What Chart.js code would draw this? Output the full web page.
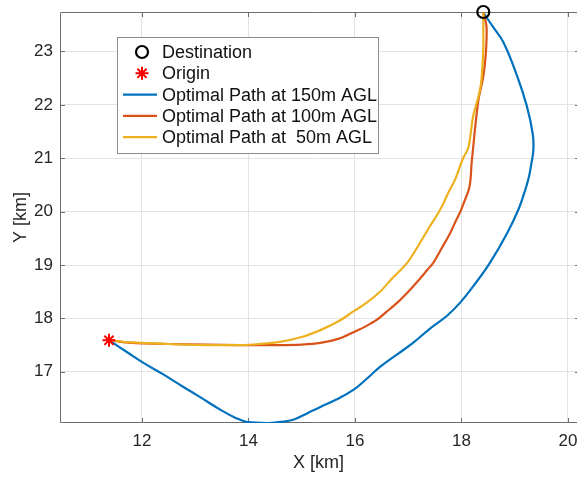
<!DOCTYPE html>
<html>
<head>
<meta charset="utf-8">
<script src="https://cdn.jsdelivr.net/npm/chart.js@4/dist/chart.umd.min.js"></script>
<style>
  html, body { margin: 0; padding: 0; background: #fff; }
  canvas { display: block; }
</style>
</head>
<body>
<canvas id="pathChart" width="577" height="477"></canvas>
<script>
// Axis ticks
const xTicks = [12, 14, 16, 18, 20];
const yTicks = [17, 18, 19, 20, 21, 22, 23];

// Markers
const originX = [11.38];
const originY = [17.59];
const destX = [18.41];
const destY = [23.74];

// Optimal path at 150m AGL
const path150X = [11.38, 11.7, 12.02, 12.4, 12.77, 13.1, 13.47, 13.75, 13.97, 14.35, 14.6, 14.84, 15.1, 15.35, 15.65, 15.97, 16.2, 16.47, 16.8, 17.09, 17.41, 17.73, 17.98, 18.22, 18.54, 18.86, 19.07, 19.18, 19.26, 19.31, 19.35, 19.34, 19.23, 19.05, 18.79, 18.6, 18.41];
const path150Y = [17.59, 17.38, 17.17, 16.95, 16.72, 16.52, 16.29, 16.14, 16.06, 16.04, 16.06, 16.1, 16.22, 16.34, 16.48, 16.66, 16.85, 17.09, 17.33, 17.54, 17.81, 18.05, 18.3, 18.6, 19.05, 19.6, 20.04, 20.35, 20.62, 20.88, 21.15, 21.45, 21.97, 22.53, 23.17, 23.45, 23.73];

// Optimal path at 100m AGL
const path100X = [11.38, 11.8, 12.5, 13.2, 13.84, 14.5, 15.0, 15.35, 15.7, 15.97, 16.2, 16.42, 16.6, 16.79, 17.0, 17.2, 17.36, 17.47, 17.62, 17.78, 17.9, 17.98, 18.07, 18.14, 18.17, 18.19, 18.22, 18.26, 18.32, 18.41, 18.46, 18.47, 18.41];
const path100Y = [17.59, 17.54, 17.52, 17.51, 17.5, 17.5, 17.51, 17.54, 17.62, 17.74, 17.85, 17.98, 18.13, 18.29, 18.5, 18.72, 18.91, 19.04, 19.3, 19.58, 19.84, 20.0, 20.23, 20.42, 20.6, 20.9, 21.2, 21.6, 22.1, 22.53, 23.0, 23.47, 23.73];

// Optimal path at 50m AGL
const path50X = [11.38, 11.8, 12.5, 13.2, 13.84, 14.2, 14.59, 15.0, 15.35, 15.7, 15.97, 16.2, 16.47, 16.7, 16.98, 17.2, 17.41, 17.55, 17.66, 17.75, 17.88, 18.03, 18.13, 18.22, 18.32, 18.37, 18.41, 18.41, 18.41];
const path50Y = [17.59, 17.55, 17.52, 17.5, 17.5, 17.52, 17.56, 17.65, 17.78, 17.95, 18.13, 18.28, 18.5, 18.75, 19.04, 19.38, 19.73, 19.95, 20.15, 20.35, 20.6, 21.0, 21.2, 21.79, 22.16, 22.42, 23.04, 23.47, 23.73];

function toPoints(xs, ys) {
    return xs.map((x, i) => ({ x: x, y: ys[i] }));
}

const textColor = '#262626';
const fontFamily = '"Liberation Sans", Arial, Helvetica, sans-serif';

// Axes frame with inward tick marks (right edge of the frame is just off the picture)
const boxPlugin = {
    id: 'boxPlugin',
    beforeDatasetsDraw(chart) {
        const { ctx, chartArea: a, scales } = chart;
        const len = 5;
        ctx.save();
        ctx.strokeStyle = '#6e6e6e';
        ctx.lineWidth = 1;
        ctx.beginPath();
        ctx.moveTo(a.right, a.top + 0.5);
        ctx.lineTo(a.left + 0.5, a.top + 0.5);
        ctx.lineTo(a.left + 0.5, a.bottom - 0.5);
        ctx.lineTo(a.right, a.bottom - 0.5);
        xTicks.forEach(v => {
            const px = Math.round(scales.x.getPixelForValue(v)) + 0.5;
            ctx.moveTo(px, a.bottom); ctx.lineTo(px, a.bottom - len);
            ctx.moveTo(px, a.top); ctx.lineTo(px, a.top + len);
        });
        yTicks.forEach(v => {
            const py = Math.round(scales.y.getPixelForValue(v)) + 0.5;
            ctx.moveTo(a.left, py); ctx.lineTo(a.left + len, py);
            ctx.moveTo(a.right, py); ctx.lineTo(a.right - 2, py);
        });
        ctx.stroke();
        ctx.restore();
    }
};

// Legend drawn inside the plot area
const insideLegend = {
    id: 'insideLegend',
    afterDatasetsDraw(chart) {
        const { ctx, chartArea: a } = chart;
        const left = a.left + 57;
        const top = a.top + 25;
        const width = 261;
        const rowH = 21.3;
        const height = 116;
        ctx.save();
        ctx.fillStyle = '#fff';
        ctx.fillRect(left, top, width, height);
        ctx.strokeStyle = '#8c8c8c';
        ctx.lineWidth = 1;
        ctx.strokeRect(left + 0.5, top + 0.5, width, height);
        ctx.font = '18px ' + fontFamily;
        ctx.textBaseline = 'middle';
        chart.data.datasets.forEach((ds, i) => {
            const cy = top + 15 + i * rowH;
            if (ds.showLine) {
                ctx.strokeStyle = ds.borderColor;
                ctx.lineWidth = 2.2;
                ctx.beginPath();
                ctx.moveTo(left + 6, cy);
                ctx.lineTo(left + 40, cy);
                ctx.stroke();
            } else {
                ctx.strokeStyle = ds.pointBorderColor;
                ctx.fillStyle = ds.pointBackgroundColor;
                ctx.lineWidth = ds.pointBorderWidth;
                Chart.helpers.drawPoint(ctx, {
                    pointStyle: ds.pointStyle,
                    radius: ds.pointRadius,
                    borderWidth: ds.pointBorderWidth,
                    rotation: 0
                }, left + 25, cy);
            }
            ctx.fillStyle = '#111';
            ctx.fillText(ds.label, left + 45, cy + 1);
        });
        ctx.restore();
    }
};

const ctx = document.getElementById('pathChart').getContext('2d');
new Chart(ctx, {
    type: 'scatter',
    data: {
        datasets: [
            {
                label: 'Destination',
                data: toPoints(destX, destY),
                pointStyle: 'circle',
                pointRadius: 6,
                pointBorderWidth: 2.2,
                pointBorderColor: '#000',
                pointBackgroundColor: 'rgba(0,0,0,0)',
                borderColor: '#000',
                showLine: false,
                clip: false,
                order: 0
            },
            {
                label: 'Origin',
                data: toPoints(originX, originY),
                pointStyle: 'star',
                pointRadius: 6.5,
                pointBorderWidth: 2,
                pointBorderColor: '#ff0000',
                pointBackgroundColor: '#ff0000',
                borderColor: '#ff0000',
                showLine: false,
                clip: false,
                order: 1
            },
            {
                label: 'Optimal Path at 150m AGL',
                data: toPoints(path150X, path150Y),
                borderColor: '#0072BD',
                borderWidth: 2.2,
                pointRadius: 0,
                showLine: true,
                tension: 0.4,
                order: 4
            },
            {
                label: 'Optimal Path at 100m AGL',
                data: toPoints(path100X, path100Y),
                borderColor: '#D95319',
                borderWidth: 2.2,
                pointRadius: 0,
                showLine: true,
                tension: 0.3,
                order: 3
            },
            {
                label: 'Optimal Path at  50m AGL',
                data: toPoints(path50X, path50Y),
                borderColor: '#EDB120',
                borderWidth: 2.2,
                pointRadius: 0,
                showLine: true,
                tension: 0.3,
                order: 2
            }
        ]
    },
    options: {
        responsive: false,
        animation: false,
        devicePixelRatio: 1,
        layout: { autoPadding: false, padding: { top: 12, right: 0, left: 0, bottom: 0 } },
        plugins: {
            legend: { display: false },
            tooltip: { enabled: false }
        },
        scales: {
            x: {
                type: 'linear',
                min: 10.46,
                max: 20.17,
                afterBuildTicks: scale => { scale.ticks = xTicks.map(v => ({ value: v })); },
                afterFit: scale => {
                    scale.height = 54;
                    scale.paddingLeft = 0;
                    scale.paddingRight = 0;
                },
                ticks: {
                    color: textColor,
                    font: { size: 17, family: fontFamily },
                    padding: 8,
                    maxRotation: 0
                },
                grid: { color: '#e3e3e3', drawTicks: false },
                border: { display: false },
                title: {
                    display: true,
                    text: 'X [km]',
                    color: textColor,
                    font: { size: 18, family: fontFamily },
                    padding: { top: 0, bottom: 3 }
                }
            },
            y: {
                type: 'linear',
                min: 16.04,
                max: 23.74,
                afterBuildTicks: scale => { scale.ticks = yTicks.map(v => ({ value: v })); },
                afterFit: scale => {
                    scale.width = 60;
                    scale.paddingTop = 0;
                    scale.paddingBottom = 0;
                },
                ticks: {
                    color: textColor,
                    font: { size: 17, family: fontFamily },
                    padding: 7
                },
                grid: { color: '#e3e3e3', drawTicks: false },
                border: { display: false },
                title: {
                    display: true,
                    text: 'Y [km]',
                    color: textColor,
                    font: { size: 18, family: fontFamily },
                    padding: { top: 10, bottom: 0 }
                }
            }
        }
    },
    plugins: [boxPlugin, insideLegend]
});
</script>
</body>
</html>
